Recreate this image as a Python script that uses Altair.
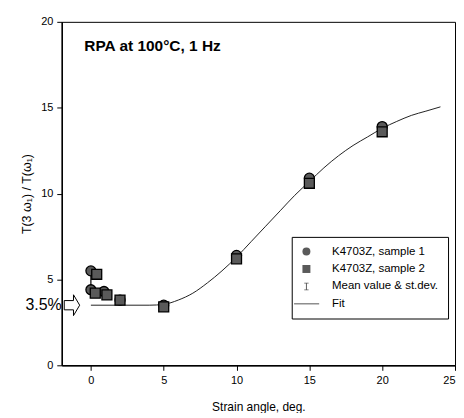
import altair as alt
import pandas as pd

# ---- data ----
s1_x = [0.0, 0.0, 0.9, 2.0, 5.0, 10.0, 15.0, 20.0]
s1_y = [5.5, 4.4, 4.3, 3.8, 3.5, 6.4, 10.9, 13.9]
s2_x = [0.4, 0.3, 1.1, 2.0, 5.0, 10.0, 15.0, 20.0]
s2_y = [5.3, 4.2, 4.1, 3.8, 3.4, 6.2, 10.6, 13.6]
err_x = [0.0]
err_lo = [4.3]
err_hi = [5.5]
fit_x = [0, 2, 4, 5, 6, 7, 8, 9, 10, 11, 12, 13, 14, 15, 16, 17, 18, 19, 20, 21, 22, 23, 24]
fit_y = [3.5, 3.5, 3.5, 3.55, 3.8, 4.2, 4.8, 5.5, 6.3, 7.2, 8.1, 9.0, 9.9, 10.7, 11.5, 12.2,
         12.8, 13.3, 13.8, 14.2, 14.55, 14.8, 15.05]
x_ticks = [0, 5, 10, 15, 20, 25]
y_ticks = [0, 5, 10, 15, 20]
labels = ["K4703Z, sample 1", "K4703Z, sample 2", "Mean value & st.dev.", "Fit"]
title_text = "RPA at 100°C, 1 Hz"
pct_text = "3.5%"
pct_value = 3.5

FONT = "'Liberation Sans', Arial, sans-serif"

# filled outline shapes so they show in the legend
ERR_PATH = ("M-0.55,-0.95H0.55V-0.75H0.12V0.75H0.55V0.95H-0.55V0.75H-0.12V-0.75H-0.55Z")
LINE_PATH = "M-3.1,-0.13H3.2V0.13H-3.1Z"
ARROW_PATH = "M-1,-0.6H0.2V-1.35L1,0L0.2,1.35V0.6H-1Z"

pts = pd.DataFrame({
    "x": s1_x + s2_x,
    "y": s1_y + s2_y,
    "series": [labels[0]] * len(s1_x) + [labels[1]] * len(s2_x),
    "order": [0] * len(s1_x) + [1] * len(s2_x),
})
fit = pd.DataFrame({"x": fit_x, "y": fit_y})
err = pd.DataFrame({"x": err_x, "lo": err_lo, "hi": err_hi})

xs = alt.Scale(domain=[-2, 25], nice=False, zero=False)
ys = alt.Scale(domain=[0, 20], nice=False)

x_axis = alt.Axis(values=x_ticks, title="Strain angle, deg.", grid=False, tickSize=5,
                  labelFontSize=11, titleFontSize=12, titleFontWeight="normal",
                  titlePadding=16, labelPadding=4)
y_axis = alt.Axis(values=y_ticks, title="T(3 ω₁) / T(ω₁)", grid=False, tickSize=5,
                  labelFontSize=11, titleFontSize=12.5, titleFontWeight="normal",
                  titlePadding=7, labelPadding=4)

fit_line = alt.Chart(fit).mark_line(color="#222", strokeWidth=1, interpolate="monotone").encode(
    x=alt.X("x:Q", scale=xs, axis=x_axis),
    y=alt.Y("y:Q", scale=ys, axis=y_axis),
)

err_rule = alt.Chart(err).mark_rule(color="black", strokeWidth=1.2).encode(
    x="x:Q", y="lo:Q", y2="hi:Q"
)

points = alt.Chart(pts).mark_point(filled=True, size=100, fill="#5a5a5a", stroke="black",
                                   strokeWidth=1.3, opacity=1).encode(
    x="x:Q",
    y="y:Q",
    order="order:Q",
    shape=alt.Shape(
        "series:N",
        scale=alt.Scale(domain=labels, range=["circle", "square", ERR_PATH, LINE_PATH]),
        legend=alt.Legend(
            title=None, orient="none", legendX=231, legendY=216,
            strokeColor="black", fillColor="white", padding=9,
            symbolSize=64, symbolFillColor="#333333", symbolStrokeColor="black",
            symbolStrokeWidth=1, labelFontSize=11.5, labelFont=FONT,
            labelOffset=20, rowPadding=4.5, cornerRadius=0,
        ),
    ),
)

title_df = pd.DataFrame({"x": [-0.45], "y": [18.6], "t": [title_text]})
title_mark = alt.Chart(title_df).mark_text(align="left", baseline="middle", fontSize=15.5,
                                           fontWeight="bold", font=FONT,
                                           color="black").encode(
    x="x:Q", y="y:Q", text="t:N"
)

pct_df = pd.DataFrame({"x": [-2.0], "y": [pct_value], "t": [pct_text]})
pct_mark = alt.Chart(pct_df).mark_text(align="right", baseline="middle", fontSize=16,
                                       font=FONT, color="black", dx=0, clip=False).encode(
    x="x:Q", y="y:Q", text="t:N"
)
arrow_df = pd.DataFrame({"x": [-1.3], "y": [pct_value]})
arrow_mark = alt.Chart(arrow_df).mark_point(shape=ARROW_PATH, size=240, filled=True,
                                            fill="white", stroke="black", strokeWidth=1,
                                            opacity=1, clip=False).encode(
    x="x:Q", y="y:Q"
)

chart = alt.layer(fit_line, err_rule, points, title_mark, pct_mark, arrow_mark).properties(
    width=395, height=345,
    padding={"left": 12, "top": 7, "right": 0, "bottom": 0},
    background="white",
).configure_view(
    stroke="black", strokeWidth=1
).configure_axis(
    domainColor="black", domainWidth=1.5, tickColor="black", labelColor="black",
    titleColor="black", labelFont=FONT, titleFont=FONT,
)

chart.save("out.html", embed_options={"renderer": "svg", "actions": False})
